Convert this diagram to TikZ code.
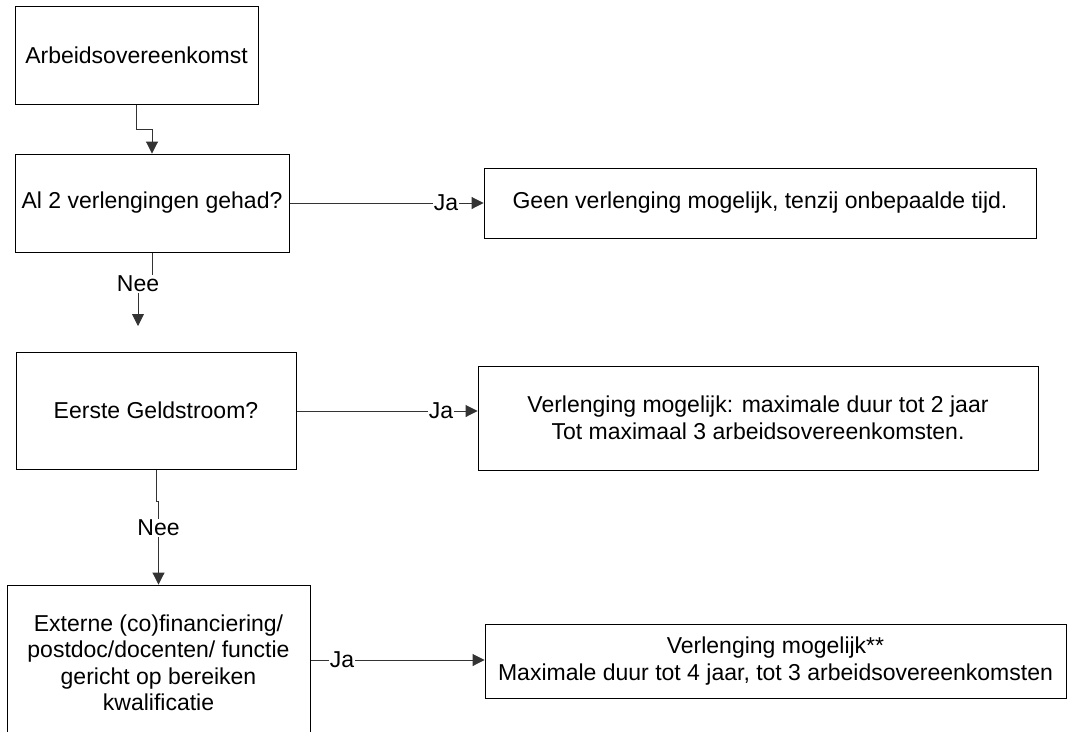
\documentclass[tikz,border=0pt]{standalone}
\usepackage{fontspec}
\setmainfont{Liberation Sans}
\usetikzlibrary{arrows.meta}
\pgfdeclarelayer{background}
\pgfsetlayers{background,main}
\begin{document}
\begin{tikzpicture}[x=1pt,y=-1pt,
  box/.style={draw=black,line width=0.9pt,fill=white,align=center,inner sep=0pt,
    font=\fontsize{23}{26.5}\selectfont},
  lbl/.style={fill=white,inner sep=1pt,font=\fontsize{23}{26.5}\selectfont},
  conn/.style={draw=black!80,line width=0.9pt},
  arr/.style={conn,-{Triangle[length=12pt,width=12pt]}}]
\useasboundingbox (0,0) rectangle (1067,731);
\clip (0,0) rectangle (1067,731);
% boxes
\node[box,minimum width=243pt,minimum height=98pt] (a) at (136.5,55) {Arbeidsovereenkomst};
\node[box,minimum width=274pt,minimum height=98pt] (b) at (152,203) {Al 2 verlengingen gehad?};
\node[box,minimum width=552pt,minimum height=70pt] (r1) at (760,203) {Geen verlenging mogelijk, tenzij onbepaalde tijd.};
\node[box,minimum width=280pt,minimum height=117pt] (c) at (156,410.5) {Eerste Geldstroom?};
\node[box,minimum width=560pt,minimum height=104pt] (r2) at (758,418) {Verlenging mogelijk: maximale duur tot 2 jaar\\Tot maximaal 3 arbeidsovereenkomsten.};
\node[box,minimum width=303pt,minimum height=156pt] (d) at (158.5,663) {Externe (co)financiering/\\postdoc/docenten/ functie\\gericht op bereiken\\kwalificatie};
\node[box,minimum width=581pt,minimum height=74pt] (r3) at (775.5,661) {Verlenging mogelijk**\\Maximale duur tot 4 jaar, tot 3 arbeidsovereenkomsten};
% labels
\node[lbl] (nee1) at (138,284) {Nee};
\node[lbl] (nee2) at (158.5,528) {Nee};
\node[lbl] (ja1) at (446,203) {Ja};
\node[lbl] (ja2) at (441,411) {Ja};
\node[lbl] (ja3) at (342,660) {Ja};
\coordinate (g1) at (138,326);
% connectors
\begin{pgfonlayer}{background}
\draw[arr] (a.south) -- ++(0,25) -| (b.north);
\draw[arr] (b.south) |- (nee1.center) -- (g1);
\draw[arr] (c.south) -- ++(0,32) -| (nee2.center) -- (d.north);
\draw[arr] (b.east) -- (r1.west);
\draw[arr] (c.east |- ja2) -- (ja2 -| r2.west);
\draw[arr] (d.east |- ja3) -- (ja3 -| r3.west);
\end{pgfonlayer}
\end{tikzpicture}
\end{document}
